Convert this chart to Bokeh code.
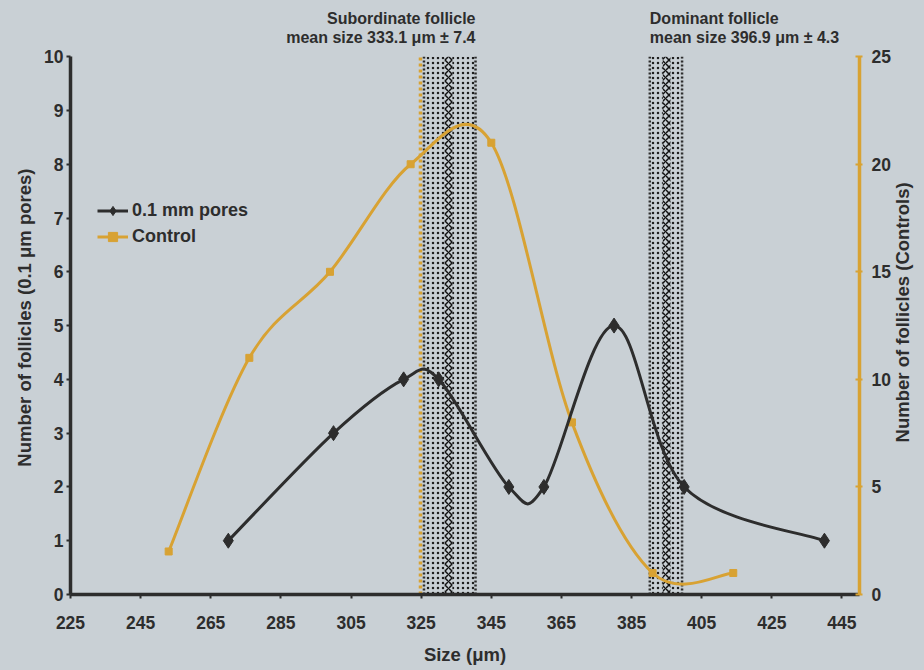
import numpy as np
from bokeh.plotting import figure
from bokeh.models import Range1d, LinearAxis, FixedTicker, Legend, LegendItem, Label
from bokeh.embed import file_html
from bokeh.resources import INLINE

# ---------------- data ----------------
pores_size = [270, 300, 320, 330, 350, 360, 380, 400, 440]
pores_count = [1, 3, 4, 4, 2, 2, 5, 2, 1]
control_size = [253, 276, 299, 322, 345, 368, 391, 414]
control_count = [2, 11, 15, 20, 21, 8, 1, 1]

x_ticks = [225, 245, 265, 285, 305, 325, 345, 365, 385, 405, 425, 445]
left_ticks = [0, 1, 2, 3, 4, 5, 6, 7, 8, 9, 10]
right_ticks = [0, 5, 10, 15, 20, 25]

left_title = "Number of follicles (0.1 \u03bcm pores)"
right_title = "Number of follicles (Controls)"
x_title = "Size (\u03bcm)"

band_title = ["Subordinate follicle", "Dominant follicle"]
band_text = ["mean size 333.1 \u03bcm \u00b1 7.4", "mean size 396.9 \u03bcm \u00b1 4.3"]
band_lo = [325.8, 390.2]
band_hi = [340.5, 399.4]
band_mid = [332.8, 395.0]

BG = "#c9d0d5"
DARK = "#2d2d2d"
GOLD = "#d8a233"
FONT = "Liberation Sans"

Y_TOP = 10.97            # room above the axes for the band notes
CTRL_TOP = 25 * Y_TOP / 10


def bezier_segments(xs, ys):
    """Catmull-Rom style smoothing expressed as cubic Bezier control points."""
    x = np.asarray(xs, float)
    y = np.asarray(ys, float)
    n = len(x)
    xp = np.concatenate([[x[0]], x, [x[-1]]])
    yp = np.concatenate([[y[0]], y, [y[-1]]])
    return dict(
        x0=x[:-1], y0=y[:-1], x1=x[1:], y1=y[1:],
        cx0=xp[1:n] + (xp[2:n + 1] - xp[0:n - 1]) / 6.0,
        cy0=yp[1:n] + (yp[2:n + 1] - yp[0:n - 1]) / 6.0,
        cx1=xp[2:n + 1] - (xp[3:n + 2] - xp[1:n]) / 6.0,
        cy1=yp[2:n + 1] - (yp[3:n + 2] - yp[1:n]) / 6.0,
    )


p = figure(
    frame_width=789, frame_height=590,
    x_range=Range1d(225, 450), y_range=Range1d(0, Y_TOP),
    output_backend="svg", toolbar_location=None,
    background_fill_color=BG, border_fill_color=BG,
    min_border_left=70, min_border_right=60, min_border_top=4, min_border_bottom=70,
    x_axis_label=x_title,
)
p.outline_line_color = None
p.grid.visible = False
p.extra_y_ranges = {"ctrl": Range1d(0, CTRL_TOP)}

# ---------------- follicle bands ----------------
p.quad(left=band_lo, right=band_hi, bottom=0, top=10, fill_color=None, line_color=None,
       hatch_pattern="dot", hatch_color="#1e1e1e", hatch_scale=5, hatch_weight=1)
mid_l = [m - 1.1 for m in band_mid]
mid_r = [m + 1.1 for m in band_mid]
p.quad(left=mid_l, right=mid_r, bottom=0, top=10, fill_color=BG, line_color=None,
       hatch_pattern="diagonal_cross", hatch_color="#111111", hatch_scale=7, hatch_weight=1.5)
p.segment(x0=band_lo, y0=0, x1=band_lo, y1=10, line_color=DARK, line_width=2.5, line_dash="2 2")
p.segment(x0=band_hi, y0=0, x1=band_hi, y1=10, line_color=DARK, line_width=2.5, line_dash="2 2")
p.segment(x0=[band_lo[0] - 1.0], y0=[0], x1=[band_lo[0] - 1.0], y1=[10],
          line_color=GOLD, line_width=3.5, line_dash="3 3")

# ---------------- series ----------------
pb = bezier_segments(pores_size, pores_count)
cb = bezier_segments(control_size, control_count)

cline = p.bezier(source=cb, x0="x0", y0="y0", x1="x1", y1="y1", cx0="cx0", cy0="cy0",
                 cx1="cx1", cy1="cy1", line_color=GOLD, line_width=3, y_range_name="ctrl")
cmark = p.scatter(control_size, control_count, marker="square", size=7, color=GOLD,
                  y_range_name="ctrl")
pline = p.bezier(source=pb, x0="x0", y0="y0", x1="x1", y1="y1", cx0="cx0", cy0="cy0",
                 cx1="cx1", cy1="cy1", line_color=DARK, line_width=3)
pmark = p.scatter(pores_size, pores_count, marker="diamond", size=15, color=DARK)


# ---------------- axes ----------------
def style_labels(ax, size="17.5px"):
    ax.major_label_text_font = FONT
    ax.major_label_text_font_style = "bold"
    ax.major_label_text_font_size = size
    ax.major_label_text_color = DARK
    ax.axis_label_text_font = FONT
    ax.axis_label_text_font_style = "bold"
    ax.axis_label_text_font_size = "18.5px"
    ax.axis_label_text_color = DARK
    ax.minor_tick_line_color = None


xa = p.xaxis[0]
xa.ticker = FixedTicker(ticks=x_ticks)
ya = p.yaxis[0]
ya.ticker = FixedTicker(ticks=left_ticks)
ya.bounds = (0, 10)
for ax in (xa, ya):
    ax.axis_line_color = DARK
    ax.axis_line_width = 3.5
    ax.major_tick_line_color = DARK
    ax.major_tick_line_width = 2
    ax.major_tick_out = 4
    ax.major_tick_in = 0
    style_labels(ax)
xa.major_label_standoff = 17
xa.axis_label_standoff = 12
ya.major_label_standoff = 3

# left title: a bare axis whose single label reads bottom-to-top
lt = LinearAxis(ticker=FixedTicker(ticks=[7.92]), major_label_overrides={7.92: left_title},
                major_label_orientation=float(np.pi / 2))
lt.axis_line_color = None
lt.major_tick_line_color = None
lt.major_tick_out = 0
lt.major_tick_in = 0
style_labels(lt, "18.5px")
lt.major_label_standoff = 17
p.add_layout(lt, "left")

ra = LinearAxis(y_range_name="ctrl", ticker=FixedTicker(ticks=right_ticks), bounds=(0, 25))
ra.axis_line_color = GOLD
ra.axis_line_width = 3.5
ra.major_tick_line_color = GOLD
ra.major_tick_line_width = 2
ra.major_tick_out = 3
ra.major_tick_in = 4
style_labels(ra)
ra.major_label_standoff = 9
p.add_layout(ra, "right")

# right title: a bare axis whose single label reads bottom-to-top
rt = LinearAxis(y_range_name="ctrl", ticker=FixedTicker(ticks=[7.07]),
                major_label_overrides={7.07: right_title},
                major_label_orientation=float(np.pi / 2))
rt.axis_line_color = None
rt.major_tick_line_color = None
rt.major_tick_out = 0
rt.major_tick_in = 0
style_labels(rt, "18.5px")
rt.major_label_standoff = 9
p.add_layout(rt, "right")

# ---------------- band annotations ----------------
for txt, yy in ((band_title, 10.71), (band_text, 10.35)):
    p.add_layout(Label(x=band_hi[0], y=yy, text=txt[0], text_align="right",
                       text_baseline="alphabetic", text_font=FONT, text_font_style="bold",
                       text_font_size="16px", text_color=DARK))
    p.add_layout(Label(x=band_lo[1], y=yy, text=txt[1], text_align="left",
                       text_baseline="alphabetic", text_font=FONT, text_font_style="bold",
                       text_font_size="16px", text_color=DARK))

# ---------------- legend ----------------
legend = Legend(
    items=[LegendItem(label="0.1 mm pores", renderers=[pline, pmark]),
           LegendItem(label="Control", renderers=[cline, cmark])],
    location=(27, 346), orientation="vertical",
    background_fill_alpha=0, border_line_color=None,
    padding=0, margin=0, spacing=3, glyph_width=31, glyph_height=23, label_height=23,
    label_standoff=4, label_text_font=FONT, label_text_font_style="bold",
    label_text_font_size="18px", label_text_color=DARK,
)
p.add_layout(legend, "center")

html = file_html(p, INLINE)
html = html.replace("</head>", "<style>body{background:%s;}</style></head>" % BG, 1)
open("out.html", "w").write(html)
